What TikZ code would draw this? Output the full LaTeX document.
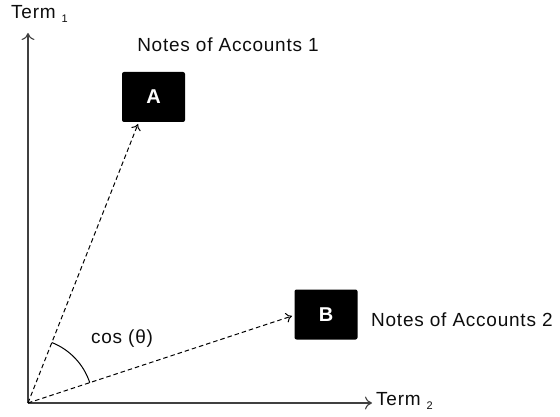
\documentclass[tikz,border=0pt]{standalone}
\usepackage{fontspec}
\setmainfont{Liberation Sans}[LetterSpace=4]
\usetikzlibrary{arrows.meta,calc}
\begin{document}
\begin{tikzpicture}[x=1pt,y=-1pt,
  axis/.style={draw=black!75,line width=1.2pt,-{To[length=7pt,width=13pt,line width=1.1pt]}},
  vec/.style={draw=black,line width=1pt,dash pattern=on 4.5pt off 3pt,-{To[length=6pt,width=10pt]}},
  doc/.style={fill=black,rounded corners=2pt,minimum width=63pt,minimum height=50pt,inner sep=0pt,
    text=white,font=\fontsize{20}{24}\selectfont\bfseries},
  lbl/.style={font=\fontsize{19}{21}\selectfont,text=black!95,inner sep=0pt}
]
\useasboundingbox (0,0) rectangle (560,417);

% axes
\coordinate (O) at (28,403);
\coordinate (T1) at (28,33);
\coordinate (T2) at (372,403);
\draw[axis] (O) -- (T1);
\draw[axis] (O) -- (T2);
\node[lbl,anchor=west] (t1) at (11,14) {Term\hspace{6pt}\raisebox{-0.4ex}{\fontsize{11}{12}\selectfont 1}};
\node[lbl,anchor=west] (t2) at (376,401) {Term\hspace{6pt}\raisebox{-0.4ex}{\fontsize{11}{12}\selectfont 2}};

% documents
\node[doc] (A) at (153.5,97) {A};
\node[doc] (B) at (326,314.5) {B};
\node[lbl] (nA) at (228,45) {Notes of Accounts 1};
\node[lbl,anchor=west] (nB) at (371,320) {Notes of Accounts 2};

% document vectors
\coordinate (a) at (138,124);
\coordinate (b) at (292,316);
\draw[vec] (O) -- (a);
\draw[vec] (O) -- (b);

% angle between the vectors
\draw[line width=1pt] ($(O)!65pt!(a)$) arc[start angle=68.5,end angle=18.2,radius=65pt];
\node[lbl] (cos) at (122,339) {cos (θ)};
\end{tikzpicture}
\end{document}
